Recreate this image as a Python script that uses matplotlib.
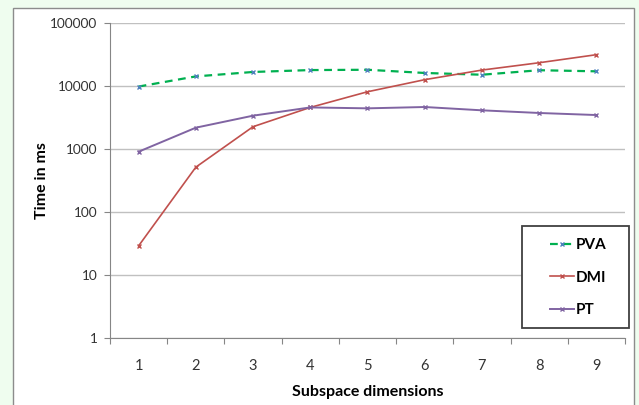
import matplotlib.pyplot as plt
from matplotlib.patches import Rectangle

dims = [1, 2, 3, 4, 5, 6, 7, 8, 9]
pva = [9800, 14200, 16700, 17900, 18100, 16100, 15100, 17800, 17100]
dmi = [29, 515, 2260, 4570, 8100, 12600, 17900, 23400, 31400]
pt = [906, 2180, 3380, 4570, 4420, 4640, 4110, 3730, 3460]

plt.rcParams['font.family'] = ['Lato', 'DejaVu Sans']

W, H = 639, 405
fig = plt.figure(figsize=(W / 100, H / 100), dpi=100, facecolor='#effdef')

# outer chart frame
fig.patches.append(Rectangle((13 / W, -0.01), (634 - 13) / W, (H - 8) / H + 0.01,
                             transform=fig.transFigure, facecolor='white',
                             edgecolor='#8c8c8c', linewidth=1.0, zorder=-10))

ax = fig.add_axes([110 / W, 1 - 338 / H, (625 - 110) / W, (338 - 23) / H])
ax.set_facecolor('none')

ax.plot(dims, pva, color='#00b050', linestyle=(0, (3.5, 2.5)), linewidth=1.6,
        marker='x', markersize=3.5, markeredgecolor='#4f81bd', markeredgewidth=1, label='PVA')
ax.plot(dims, dmi, color='#c0504d', linewidth=1.2,
        marker='x', markersize=3.5, markeredgewidth=1, label='DMI')
ax.plot(dims, pt, color='#8064a2', linewidth=1.4,
        marker='x', markersize=3.5, markeredgewidth=1, label='PT')

ax.set_yscale('log')
ax.set_ylim(1, 100000)
ax.set_yticks([1, 10, 100, 1000, 10000, 100000])
ax.set_yticklabels(['1', '10', '100', '1000', '10000', '100000'])
ax.minorticks_off()
ax.set_xlim(0.5, 9.5)
ax.set_xticks([x - 0.5 for x in dims] + [9.5])
ax.set_xticklabels([])
ax.set_xticks(dims, minor=True)
ax.set_xticklabels([str(d) for d in dims], minor=True)
ax.tick_params(axis='x', which='major', length=4, color='#868686')
ax.tick_params(axis='x', which='minor', length=0, pad=15, labelsize=10.5, labelcolor='#333333')
ax.tick_params(axis='y', length=4, color='#868686', labelsize=9.8, labelcolor='#333333', pad=5)

ax.grid(axis='y', color='#c0c0c0', linewidth=1.0)
ax.set_axisbelow(True)
for s in ['top', 'right']:
    ax.spines[s].set_visible(False)
for s in ['left', 'bottom']:
    ax.spines[s].set_color('#868686')

ax.set_ylabel('Time in ms', fontsize=11.5, fontweight='bold', labelpad=1)
ax.set_xlabel('Subspace dimensions', fontsize=11.5, fontweight='bold', labelpad=9)

# legend frame drawn separately (wide right padding like the original)
ax.add_patch(Rectangle((522 / W, 1 - 328 / H), (629 - 522) / W, (328 - 226) / H,
                       transform=fig.transFigure, facecolor='white', clip_on=False,
                       edgecolor='#404040', linewidth=1.3, zorder=5))
leg = ax.legend(loc='upper left', bbox_to_anchor=(538 / W, 1 - 226 / H),
                bbox_transform=fig.transFigure, frameon=False,
                prop={'size': 11, 'weight': 'bold'}, handlelength=1.55,
                handletextpad=0.12, labelspacing=1.2, borderpad=0.3)
leg.set_zorder(6)

fig.savefig('out.png', dpi=100, facecolor=fig.get_facecolor())
